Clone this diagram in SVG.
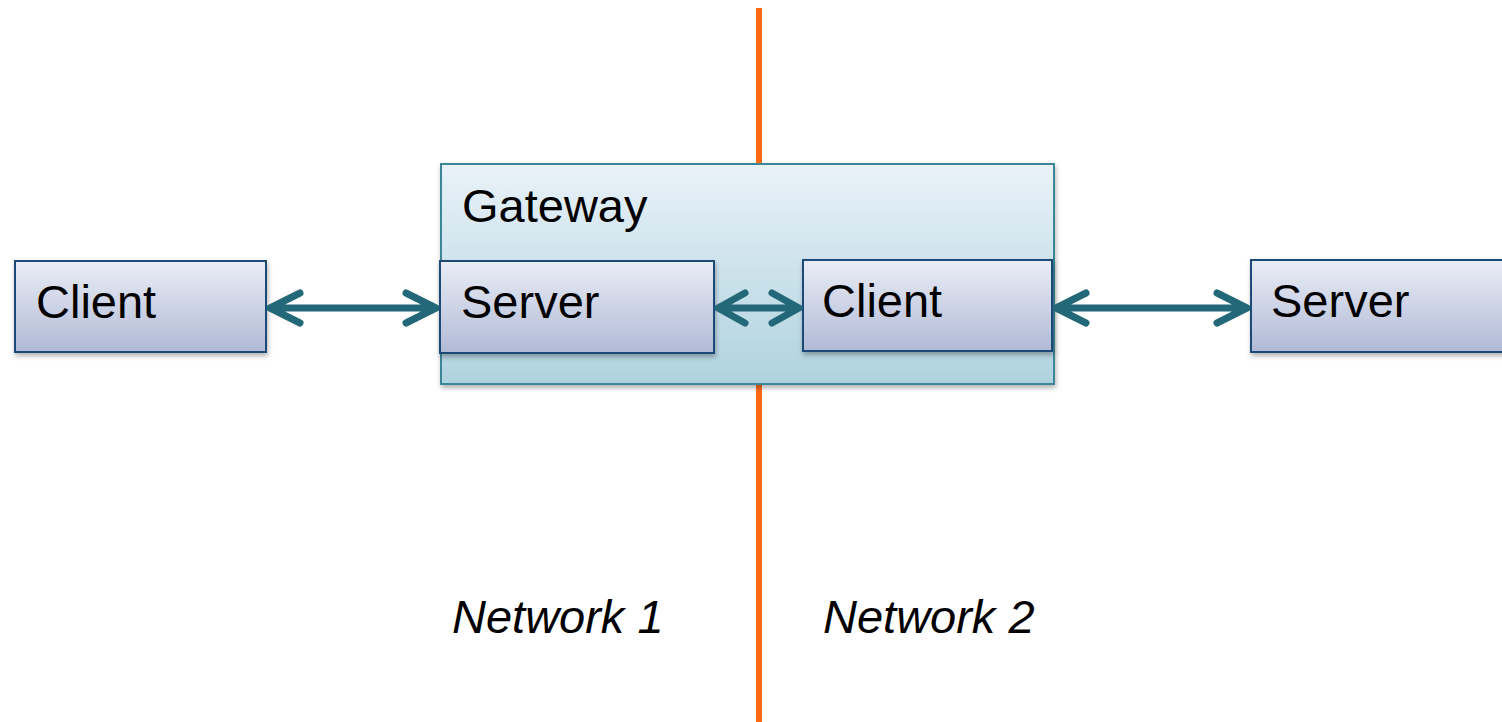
<svg xmlns="http://www.w3.org/2000/svg" width="1502" height="722" viewBox="0 0 1502 722">
<defs>
<linearGradient id="boxg" x1="0" y1="0" x2="0" y2="1">
<stop offset="0" stop-color="#eaedf6"/>
<stop offset="1" stop-color="#b1bad6"/>
</linearGradient>
<linearGradient id="gwg" x1="0" y1="0" x2="0" y2="1">
<stop offset="0" stop-color="#e9f2f8"/>
<stop offset="1" stop-color="#afd2df"/>
</linearGradient>
<filter id="sh" x="-10%" y="-10%" width="130%" height="140%">
<feDropShadow dx="1" dy="3" stdDeviation="2.5" flood-color="#000" flood-opacity="0.3"/>
</filter>
</defs>
<style>
.box{fill:url(#boxg);stroke:#1e4a78;stroke-width:2;filter:url(#sh)}
.gw{fill:url(#gwg);stroke:#3b8797;stroke-width:2;filter:url(#sh)}
.t{font-family:"Liberation Sans",Arial,sans-serif;font-size:47px;fill:#000}
.it{font-style:italic}
.c{fill:none;stroke:#236878;stroke-width:7;stroke-linecap:round;stroke-linejoin:round}
</style>
<rect width="1502" height="722" fill="#fff"/>
<line x1="759" y1="8" x2="759" y2="722" stroke="#fe6a13" stroke-width="6"/>
<g id="gateway">
<rect class="gw" x="441" y="164" width="613" height="220"/>
<text class="t" x="462" y="222">Gateway</text>
</g>
<g id="client1">
<rect class="box" x="15" y="261" width="251" height="91"/>
<text class="t" x="36" y="318">Client</text>
</g>
<g id="server1">
<rect class="box" x="440" y="261" width="274" height="92"/>
<text class="t" x="461" y="318">Server</text>
</g>
<g id="client2">
<rect class="box" x="803" y="260" width="249" height="91"/>
<text class="t" x="822" y="317">Client</text>
</g>
<g id="server2">
<rect class="box" x="1251" y="260" width="260" height="92"/>
<text class="t" x="1271" y="317">Server</text>
</g>
<g id="connectors">
<path class="c" d="M270 308H436M300 293L270 308L300 323M406 293L436 308L406 323"/>
<path class="c" d="M718 308H799M745 293L718 308L745 323M772 293L799 308L772 323"/>
<path class="c" d="M1056 308H1247M1086 293L1056 308L1086 323M1217 293L1247 308L1217 323"/>
</g>
<text class="t it" x="452" y="633">Network 1</text>
<text class="t it" x="823" y="633">Network 2</text>
</svg>
